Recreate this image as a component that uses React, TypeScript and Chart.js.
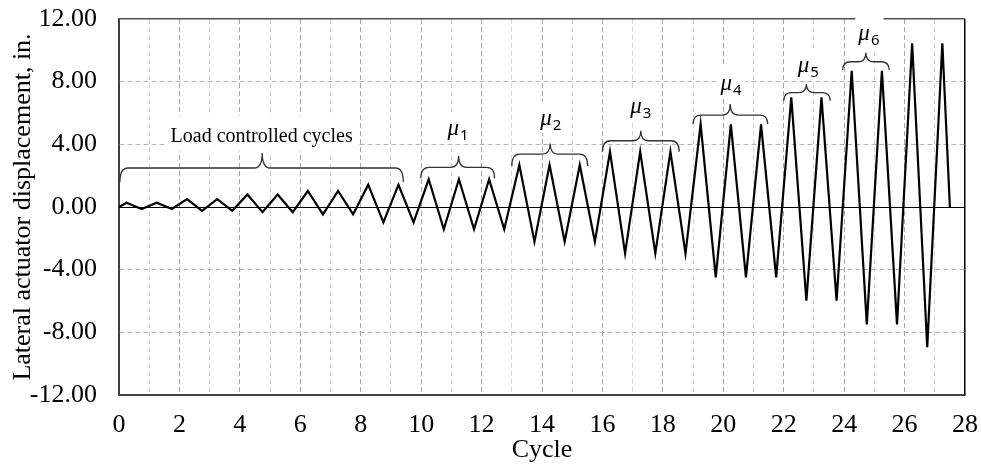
import React, { useEffect, useRef } from 'react';
import { Chart, registerables } from 'chart.js';

Chart.register(...registerables);

// ---- Data ----
const cycles = [
  0, 0.25, 0.75, 1.25, 1.75, 2.25, 2.75, 3.25, 3.75, 4.25, 4.75, 5.25, 5.75, 6.25, 6.75,
  7.25, 7.75, 8.25, 8.75, 9.25, 9.75, 10.25, 10.75, 11.25, 11.75, 12.25, 12.75, 13.25,
  13.75, 14.25, 14.75, 15.25, 15.75, 16.25, 16.75, 17.25, 17.75, 18.25, 18.75, 19.25,
  19.75, 20.25, 20.75, 21.25, 21.75, 22.25, 22.75, 23.25, 23.75, 24.25, 24.75, 25.25,
  25.75, 26.25, 26.75, 27.25, 27.5,
];
const displacement = [
  0, 0.27, -0.13, 0.27, -0.13, 0.5, -0.24, 0.5, -0.24, 0.8, -0.33, 0.8, -0.33, 1.02, -0.47,
  1.02, -0.47, 1.42, -0.98, 1.42, -0.98, 1.77, -1.42, 1.77, -1.42, 1.77, -1.42, 2.68,
  -2.21, 2.68, -2.21, 2.68, -2.21, 3.53, -2.96, 3.53, -2.96, 3.53, -2.96, 5.28,
  -4.49, 5.28, -4.49, 5.28, -4.49, 7.0, -5.98, 7.0, -5.98, 8.7, -7.49, 8.7,
  -7.49, 10.45, -8.95, 10.45, 0,
];

const xTitle = 'Cycle';
const yTitle = 'Lateral actuator displacement, in.';

// Brace annotations (in data units: cycle / inches)
const braceStart = [0.03, 9.99, 13.0, 16.0, 19.0, 22.0, 23.95];
const braceEnd = [9.41, 12.43, 15.51, 18.54, 21.47, 23.54, 25.49];
const braceTip = [4.74, 11.24, 14.27, 17.27, 20.23, 22.75, 24.72];
const braceLevel = [2.49, 2.53, 3.38, 4.23, 5.87, 7.3, 9.27];
const braceTipLevel = [3.45, 3.25, 4.06, 4.87, 6.57, 7.85, 9.85];
const braceHookLevel = [1.6, 1.83, 2.62, 3.53, 5.3, 6.78, 8.74];

const loadLabel = 'Load controlled cycles';
const loadLabelPos = [4.72, 4.18];
const muSubscripts = ['1', '2', '3', '4', '5', '6'];
const muLabelX = [11.22, 14.29, 17.27, 20.26, 22.81, 24.82];
const muLabelY = [4.59, 5.23, 6.0, 7.47, 8.62, 10.66];

const annotationPlugin = {
  id: 'cycleAnnotations',
  afterDatasetsDraw(chart: any) {
    const { ctx } = chart;
    const xs = chart.scales.x;
    const ys = chart.scales.y;
    ctx.save();

    // Load controlled label
    ctx.font = '20px "Liberation Serif"';
    const lw = ctx.measureText(loadLabel).width;
    const lx = xs.getPixelForValue(loadLabelPos[0]);
    const ly = ys.getPixelForValue(loadLabelPos[1]);
    ctx.fillStyle = '#fff';
    ctx.fillRect(lx - lw / 2 - 4, ly - 26, lw + 8, 36);
    ctx.fillStyle = '#000';
    ctx.textAlign = 'center';
    ctx.textBaseline = 'alphabetic';
    ctx.fillText(loadLabel, lx, ly);

    // mu labels
    const muFont = 'italic 23px "Liberation Serif"';
    const subFont = '15px "Noto Sans"';
    ctx.textAlign = 'left';
    for (let i = 0; i < muSubscripts.length; i++) {
      const cx = xs.getPixelForValue(muLabelX[i]);
      const by = ys.getPixelForValue(muLabelY[i]);
      ctx.font = muFont;
      const wm = ctx.measureText('μ').width;
      ctx.font = subFont;
      const ws = ctx.measureText(muSubscripts[i]).width;
      const total = wm + 1 + ws;
      const left = cx - total / 2;
      ctx.fillStyle = '#fff';
      ctx.fillRect(left - 3, by - 23, total + 7, 31);
      ctx.fillStyle = '#000';
      ctx.font = muFont;
      ctx.fillText('μ', left, by);
      ctx.font = subFont;
      ctx.fillText(muSubscripts[i], left + wm + 1, by + 5);
    }

    // braces
    ctx.strokeStyle = '#333';
    ctx.lineWidth = 1.3;
    for (let i = 0; i < braceStart.length; i++) {
      const x0 = xs.getPixelForValue(braceStart[i]);
      const x1 = xs.getPixelForValue(braceEnd[i]);
      const xt = xs.getPixelForValue(braceTip[i]);
      const ym = ys.getPixelForValue(braceLevel[i]);
      const yt = ys.getPixelForValue(braceTipLevel[i]);
      const yh = ys.getPixelForValue(braceHookLevel[i]);
      const r = 8;
      const r2 = 8;
      ctx.beginPath();
      ctx.moveTo(x0, yh);
      ctx.quadraticCurveTo(x0, ym, x0 + r, ym);
      ctx.lineTo(xt - r2, ym);
      ctx.quadraticCurveTo(xt, ym, xt, yt);
      ctx.quadraticCurveTo(xt, ym, xt + r2, ym);
      ctx.lineTo(x1 - r, ym);
      ctx.quadraticCurveTo(x1, ym, x1, yh);
      ctx.stroke();
    }
    ctx.restore();
  },
};

export default function App() {
  const canvasRef = useRef<HTMLCanvasElement | null>(null);

  useEffect(() => {
    if (!canvasRef.current) return;
    Chart.defaults.font.family = '"Liberation Serif"';
    Chart.defaults.color = '#000';
    const points = cycles.map((c, i) => ({ x: c, y: displacement[i] }));
    const chart = new Chart(canvasRef.current, {
      type: 'line',
      data: {
        datasets: [
          {
            data: points,
            borderColor: '#000',
            borderWidth: 2.2,
            pointRadius: 0,
            tension: 0,
            fill: false,
          },
        ],
      },
      options: {
        responsive: false,
        animation: false,
        events: [],
        layout: { padding: { top: 19, right: 16, left: 0, bottom: 0 } },
        plugins: {
          legend: { display: false },
          tooltip: { enabled: false },
        },
        scales: {
          x: {
            type: 'linear',
            min: 0,
            max: 28,
            afterFit: (scale: any) => {
              scale.height = 69;
              scale.paddingLeft = 0;
              scale.paddingRight = 0;
              scale.paddingTop = 0;
              scale.paddingBottom = 0;
            },
            ticks: {
              stepSize: 1,
              autoSkip: false,
              maxRotation: 0,
              padding: 15,
              font: { size: 26, family: '"Liberation Serif"' },
              color: '#000',
              callback: (v: any) => (Number(v) % 2 === 0 ? String(v) : ''),
            },
            grid: {
              drawTicks: false,
              color: (ctx: any) => {
                const v = ctx.tick ? ctx.tick.value : null;
                if (v === 28) return '#000';
                if (v === 0) return '#404040';
                return v % 2 === 0 ? '#a8a8a8' : '#d6d6d6';
              },
              lineWidth: (ctx: any) => {
                const v = ctx.tick ? ctx.tick.value : null;
                return v === 28 ? 1.5 : 1;
              },
            },
            border: {
              display: true,
              color: '#404040',
              width: 1.5,
              dash: (ctx: any) => {
                const v = ctx.tick ? ctx.tick.value : null;
                return v === 0 || v === 28 || v === null ? [] : [5, 3];
              },
            },
            title: {
              display: true,
              text: xTitle,
              font: { size: 26, family: '"Liberation Serif"', lineHeight: 1 },
              color: '#000',
              padding: { top: 0, bottom: 1 },
            },
          },
          y: {
            type: 'linear',
            min: -12,
            max: 12,
            afterFit: (scale: any) => {
              scale.width = 119;
              scale.paddingLeft = 0;
              scale.paddingRight = 0;
              scale.paddingTop = 0;
              scale.paddingBottom = 0;
            },
            ticks: {
              stepSize: 4,
              padding: 22,
              font: { size: 26, family: '"Liberation Serif"' },
              color: '#000',
              callback: (v: any) => Number(v).toFixed(2),
            },
            grid: {
              drawTicks: false,
              color: (ctx: any) => {
                const v = ctx.tick ? ctx.tick.value : null;
                if (v === 0) return '#000';
                if (v === 12) return '#505050';
                if (v === -12) return '#404040';
                return '#b4b4b4';
              },
              lineWidth: (ctx: any) => {
                const v = ctx.tick ? ctx.tick.value : null;
                return v === 12 ? 1.5 : 1;
              },
            },
            border: {
              display: true,
              color: '#404040',
              width: 1.5,
              dash: (ctx: any) => {
                const v = ctx.tick ? ctx.tick.value : null;
                return v === 0 || v === 12 || v === -12 || v === null ? [] : [5, 3];
              },
            },
            title: {
              display: true,
              text: yTitle,
              font: { size: 26, family: '"Liberation Serif"', lineHeight: 1 },
              color: '#000',
              padding: { top: 10, bottom: 0 },
            },
          },
        },
      },
      plugins: [annotationPlugin],
    } as any);
    return () => chart.destroy();
  }, []);

  return (
    <div style={{ position: 'absolute', left: 0, top: 0, width: 981, height: 464, background: '#fff' }}>
      <canvas ref={canvasRef} width={981} height={464} style={{ display: 'block' }} />
    </div>
  );
}
